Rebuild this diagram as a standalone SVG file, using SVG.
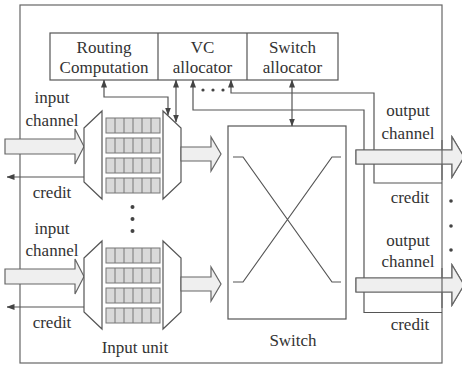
<svg xmlns="http://www.w3.org/2000/svg" width="462" height="366" viewBox="0 0 462 366">
<defs>
<marker id="ah" markerWidth="8" markerHeight="6" refX="7.5" refY="3" orient="auto-start-reverse" markerUnits="userSpaceOnUse">
<path d="M0,0 L8,3 L0,6 z" fill="#444"/>
</marker>
<g id="buf">
<rect x="0" y="0" width="54" height="15" class="cell"/>
<path d="M9,0v15M18,0v15M27,0v15M36,0v15M45,0v15" class="cl"/>
</g>
</defs>
<style>
text{font-family:"Liberation Serif","Times New Roman",serif;font-size:17px;fill:#333;text-anchor:middle}
.frame{fill:none;stroke:#666;stroke-width:1.2}
.box{fill:#fff;stroke:#555;stroke-width:1.2}
.cell{fill:#d9d9d9;stroke:#777;stroke-width:1}
.cl{stroke:#777;stroke-width:1;fill:none}
.fat{fill:#efefef;stroke:#666;stroke-width:1.2}
.ln{fill:none;stroke:#555;stroke-width:1.2}
.dot{fill:#444}
</style>
<g id="outputs">
<path class="fat" d="M356,150 H452 V137 L464,157 L452,177 V164 H356 Z"/>
<path class="fat" d="M356,278 H452 V265 L464,285 L452,305 V292 H356 Z"/>
</g>
<rect id="router" class="frame" x="20" y="5" width="422" height="358"/>
<g id="allocators">
<rect class="box" x="50" y="33" width="288" height="47"/>
<path class="ln" d="M158,33V80M247,33V80"/>
<text x="104" y="53">Routing</text>
<text x="104" y="73">Computation</text>
<text x="202.5" y="53">VC</text>
<text x="202.5" y="73">allocator</text>
<text x="292.5" y="53">Switch</text>
<text x="292.5" y="73">allocator</text>
</g>
<g id="input-unit-1">
<path class="fat" d="M5,139 H75 V129 L84,146.5 L75,164 V154 H5 Z"/>
<polygon class="box" points="84,128 102,111 102,199 84,182"/>
<polygon class="box" points="163,111 181,128 181,182 163,199"/>
<use href="#buf" x="106" y="118"/>
<use href="#buf" x="106" y="138"/>
<use href="#buf" x="106" y="158"/>
<use href="#buf" x="106" y="178"/>
<path class="fat" d="M181,147 H211 V137 L221,154 L211,171 V161 H181 Z"/>
<text x="52" y="103">input</text>
<text x="52" y="126">channel</text>
<text x="52" y="198">credit</text>
</g>
<g id="input-unit-2">
<path class="fat" d="M5,269 H75 V259 L84,276.5 L75,294 V284 H5 Z"/>
<polygon class="box" points="84,258 102,241 102,329 84,312"/>
<polygon class="box" points="163,241 181,258 181,312 163,329"/>
<use href="#buf" x="106" y="248"/>
<use href="#buf" x="106" y="268"/>
<use href="#buf" x="106" y="288"/>
<use href="#buf" x="106" y="308"/>
<path class="fat" d="M181,277 H211 V267 L221,284 L211,301 V291 H181 Z"/>
<text x="52" y="234">input</text>
<text x="52" y="256">channel</text>
<text x="52" y="328">credit</text>
<text x="135" y="353">Input unit</text>
</g>
<g id="switch">
<rect class="box" x="228" y="126" width="118" height="193"/>
<path class="ln" d="M233,157H243L332,282H341M233,282H243L332,157H341"/>
<text x="293" y="346">Switch</text>
</g>
<g id="connectors">
<path class="ln" d="M104,80V97H168V115" marker-start="url(#ah)" marker-end="url(#ah)"/>
<path class="ln" d="M176,80V122" marker-start="url(#ah)" marker-end="url(#ah)"/>
<path class="ln" d="M292,80V126" marker-start="url(#ah)" marker-end="url(#ah)"/>
<path class="ln" d="M442,183H374V93H231V80" marker-end="url(#ah)"/>
<path class="ln" d="M442,312.5H364V110H193V80" marker-end="url(#ah)"/>
<path class="ln" d="M84,177H7" marker-end="url(#ah)"/>
<path class="ln" d="M84,307H7" marker-end="url(#ah)"/>
</g>
<g id="output-overlay">
<path class="fat" d="M356,150 H452 V137 L464,157 L452,177 V164 H356 Z"/>
<path class="fat" d="M356,278 H452 V265 L464,285 L452,305 V292 H356 Z"/>
<path class="frame" d="M442,140V180M442,268V308"/>
<text x="408" y="116">output</text>
<text x="408" y="139">channel</text>
<text x="410" y="203">credit</text>
<text x="408" y="246">output</text>
<text x="408" y="267">channel</text>
<text x="410" y="330">credit</text>
</g>
<g id="dots">
<circle class="dot" cx="203" cy="90" r="1.6"/>
<circle class="dot" cx="213" cy="90" r="1.6"/>
<circle class="dot" cx="223" cy="90" r="1.6"/>
<circle class="dot" cx="132.5" cy="207" r="2"/>
<circle class="dot" cx="132.5" cy="219" r="2"/>
<circle class="dot" cx="132.5" cy="231" r="2"/>
<circle class="dot" cx="451" cy="201" r="1.8"/>
<circle class="dot" cx="451" cy="226" r="1.8"/>
<circle class="dot" cx="451" cy="250" r="1.8"/>
</g>
</svg>
